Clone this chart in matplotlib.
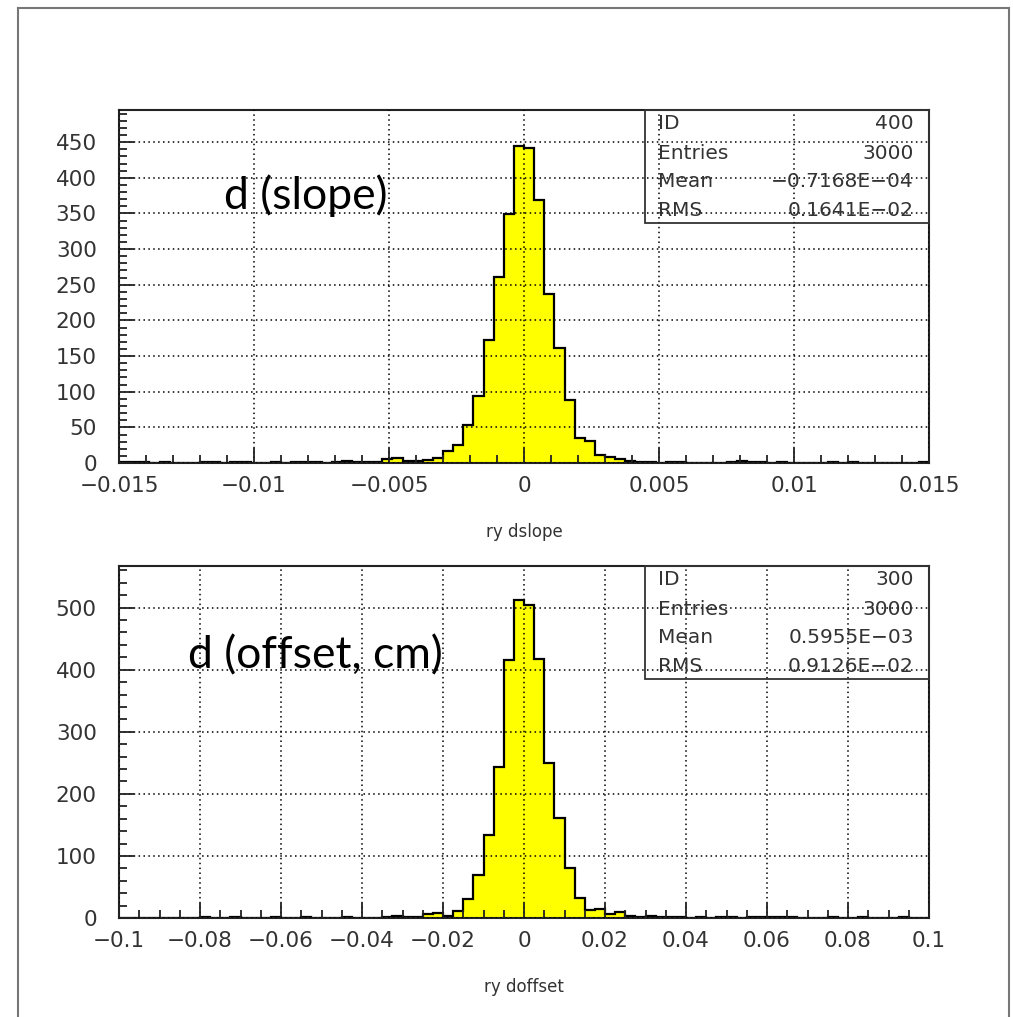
import numpy as np
import matplotlib
matplotlib.use("Agg")
import matplotlib.pyplot as plt
from matplotlib.lines import Line2D
from matplotlib.patches import Rectangle

# ---- histogram contents (80 bins each) ----
slope_range = (-0.015, 0.015)
slope_counts = [
    1, 1, 1, 0, 1, 0, 0, 0, 1, 1,
    0, 1, 1, 0, 0, 1, 0, 1, 2, 1,
    0, 1, 3, 1, 1, 2, 5, 7, 3, 3,
    4, 7, 17, 25, 53, 94, 173, 261, 349, 444,
    442, 369, 237, 162, 88, 35, 31, 11, 9, 6,
    3, 1, 1, 0, 2, 2, 0, 0, 0, 0,
    1, 3, 1, 1, 0, 1, 0, 0, 0, 0,
    1, 0, 1, 0, 0, 0, 0, 0, 0, 1,
]
slope_xticks = [-0.015, -0.01, -0.005, 0, 0.005, 0.01, 0.015]
slope_xlabels = ["−0.015", "−0.01", "−0.005", "0", "0.005", "0.01", "0.015"]
slope_yticks = [0, 50, 100, 150, 200, 250, 300, 350, 400, 450]
slope_stats = [("ID", "400"), ("Entries", "3000"),
               ("Mean", "−0.7168E−04"), ("RMS", "0.1641E−02")]

offset_range = (-0.1, 0.1)
offset_counts = [
    0, 0, 0, 0, 0, 0, 0, 0, 1, 0,
    0, 1, 0, 0, 0, 1, 0, 0, 1, 0,
    0, 0, 1, 0, 0, 0, 1, 3, 2, 1,
    7, 8, 4, 11, 30, 70, 133, 243, 415, 512,
    504, 418, 249, 161, 80, 32, 13, 15, 7, 10,
    4, 2, 3, 2, 2, 1, 0, 1, 0, 1,
    2, 0, 1, 1, 2, 1, 1, 0, 0, 0,
    1, 0, 0, 1, 0, 0, 0, 1, 0, 0,
]
offset_xticks = [-0.1, -0.08, -0.06, -0.04, -0.02, 0, 0.02, 0.04, 0.06, 0.08, 0.1]
offset_xlabels = ["−0.1", "−0.08", "−0.06", "−0.04", "−0.02", "0",
                  "0.02", "0.04", "0.06", "0.08", "0.1"]
offset_yticks = [0, 100, 200, 300, 400, 500]
offset_stats = [("ID", "300"), ("Entries", "3000"),
                ("Mean", "0.5955E−03"), ("RMS", "0.9126E−02")]

plt.rcParams["font.family"] = ["DejaVu Sans"]
TXT = "#333333"


def draw_hist(ax, counts, xr, xticks, xlabels, yticks, ymax, xminor, yminor,
              stats, xtitle):
    edges = np.linspace(xr[0], xr[1], len(counts) + 1)
    ax.stairs(counts, edges, fill=True, color="#ffff00", zorder=1)
    ax.stairs(counts, edges, color="black", lw=1.6, zorder=1.2)
    ax.set_xlim(*xr)
    ax.set_ylim(0, ymax)
    ax.set_xticks(xticks, xlabels)
    ax.set_yticks(yticks)
    ax.set_xticks(np.arange(xr[0], xr[1] + xminor / 2, xminor), minor=True)
    ax.set_yticks(np.arange(0, ymax, yminor), minor=True)
    ax.tick_params(which="both", direction="in", colors="#222222",
                   labelcolor=TXT, labelsize=15.5, width=1.3)
    ax.tick_params(axis="x", which="major", length=11, pad=9)
    ax.tick_params(axis="x", which="minor", length=6)
    ax.tick_params(axis="y", which="major", length=11, pad=16)
    ax.tick_params(axis="y", which="minor", length=6)
    ax.set_axisbelow(False)
    ax.grid(True, which="major", color="black", ls=(0, (1, 2.2)), lw=1.1)
    for s in ax.spines.values():
        s.set_linewidth(1.5)
        s.set_color("#222222")

    # statistics box
    ax.add_patch(Rectangle((0.649, 0.68), 0.351, 0.32, transform=ax.transAxes,
                           fill=False, ec="#333333", lw=1.3, zorder=4,
                           clip_on=False))
    rows = [0.962, 0.878, 0.797, 0.716]
    for (name, val), yy in zip(stats, rows):
        ax.text(0.665, yy, name, transform=ax.transAxes, ha="left",
                va="center", fontsize=14.5, color=TXT, zorder=5)
        ax.text(0.981, yy, val, transform=ax.transAxes, ha="right",
                va="center", fontsize=14.5, color=TXT, zorder=5)
    return ax.set_xlabel(xtitle, fontsize=12, color=TXT, labelpad=20)


fig = plt.figure(figsize=(10.13, 10.17), dpi=100)

ax1 = fig.add_axes([0.1175, 0.5447, 0.7996, 0.3471])
draw_hist(ax1, slope_counts, slope_range, slope_xticks, slope_xlabels,
          slope_yticks, 495, 0.001, 10, slope_stats, "ry dslope")

ax2 = fig.add_axes([0.1175, 0.0973, 0.7996, 0.3461])
draw_hist(ax2, offset_counts, offset_range, offset_xticks, offset_xlabels,
          offset_yticks, 567, 0.005, 20, offset_stats, "ry doffset")

# overlaid annotations
fig.text(0.302, 0.808, "d (slope)", fontsize=32, family=["Lato", "DejaVu Sans"],
         ha="center", va="center", color="black")
fig.text(0.3115, 0.355, "d (offset, cm)", fontsize=32,
         family=["Lato", "DejaVu Sans"], ha="center", va="center",
         color="black")

# page frame
fx0, fy1, fx1 = 18 / 1013, 1 - 8 / 1017, 1009 / 1013
for xs, ys in [([fx0, fx0], [0, fy1]), ([fx0, fx1], [fy1, fy1]),
               ([fx1, fx1], [fy1, 0])]:
    fig.add_artist(Line2D(xs, ys, transform=fig.transFigure,
                          color="#777777", lw=1.5))

fig.savefig("out.png", dpi=100)
